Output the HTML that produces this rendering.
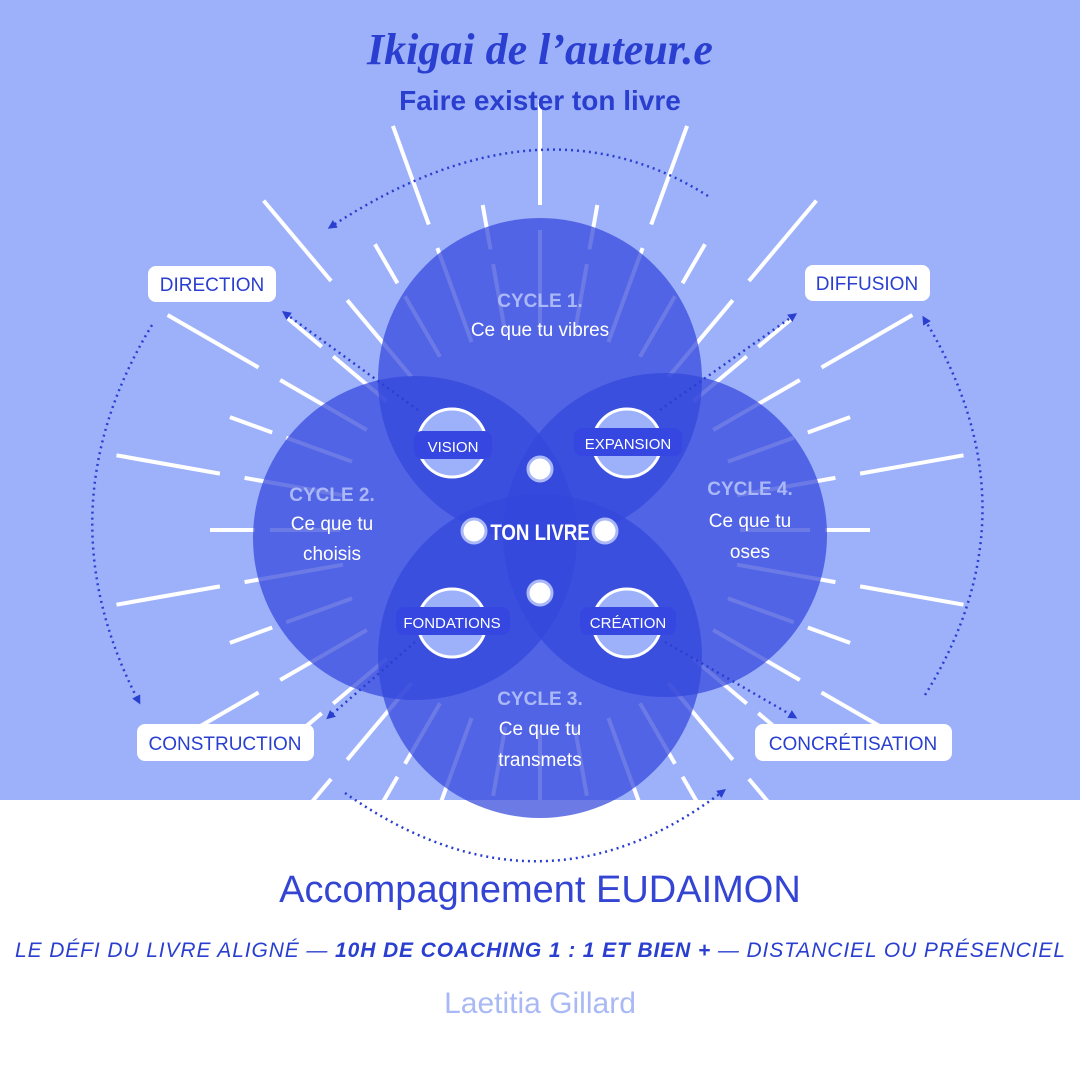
<!DOCTYPE html>
<html><head><meta charset="utf-8"><style>
body{margin:0;width:1080px;height:1080px;overflow:hidden;background:#fff;font-family:"Liberation Sans",sans-serif}
</style></head><body>
<svg width="1080" height="1080" viewBox="0 0 1080 1080" xmlns="http://www.w3.org/2000/svg">
<defs>
<marker id="ah" markerWidth="9" markerHeight="9" refX="4" refY="4.5" orient="auto" markerUnits="userSpaceOnUse"><path d="M0,0 L9,4.5 L0,9 Z" fill="#2a3fd0"/></marker>
</defs>
<rect width="1080" height="800" fill="#9db1fa"/>
<g id="rays" stroke="#fff" stroke-width="4"></g>
<rect y="800" width="1080" height="280" fill="#fff"/>
<g fill="#3347dc" fill-opacity="0.72">
<circle cx="540" cy="380" r="162"/>
<circle cx="415" cy="538" r="162"/>
<circle cx="665" cy="535" r="162"/>
<circle cx="540" cy="656" r="162"/>
</g>
<g fill="none" stroke="#2a3fd0" stroke-width="2.5" stroke-dasharray="2 4">
<path d="M708,196 Q540,90 332,226" marker-end="url(#ah)"/>
<path d="M152,325 Q40,510 138,700" marker-end="url(#ah)"/>
<path d="M925,695 Q1040,510 925,320" marker-end="url(#ah)"/>
<path d="M345,793 Q540,930 722,792" marker-end="url(#ah)"/>
<path d="M418,410 L286,314" marker-end="url(#ah)"/>
<path d="M660,410 L793,316" marker-end="url(#ah)"/>
<path d="M415,642 L330,716" marker-end="url(#ah)"/>
<path d="M665,642 L793,716" marker-end="url(#ah)"/>
</g>
<g fill="#9db1fa" stroke="#fff" stroke-width="3">
<circle cx="452" cy="443" r="34"/><circle cx="627" cy="443" r="34"/>
<circle cx="452" cy="623" r="34"/><circle cx="627" cy="623" r="34"/>
</g>
<g fill="#3547e0">
<rect x="414" y="431" width="78" height="28" rx="8"/>
<rect x="574" y="428" width="108" height="28" rx="8"/>
<rect x="396" y="607" width="114" height="28" rx="8"/>
<rect x="580" y="607" width="96" height="28" rx="8"/>
</g>
<g fill="#fff" font-size="15" text-anchor="middle" font-family="Liberation Sans">
<text x="453" y="452">VISION</text>
<text x="628" y="449">EXPANSION</text>
<text x="452" y="628">FONDATIONS</text>
<text x="628" y="628">CRÉATION</text>
</g>
<g fill="#fff" stroke="#aab8f8" stroke-width="3">
<circle cx="540" cy="469" r="12"/><circle cx="540" cy="593" r="12"/>
<circle cx="474" cy="531" r="12"/><circle cx="605" cy="531" r="12"/>
</g>
<text x="540" y="540" fill="#fff" font-size="22" font-weight="bold" text-anchor="middle" font-family="Liberation Sans Narrow,Liberation Sans" transform="translate(540 0) scale(0.85 1) translate(-540 0)">TON LIVRE</text>
<g text-anchor="middle" font-size="19">
<text x="540" y="307" fill="#aab8f8" font-weight="bold">CYCLE 1.</text>
<text x="540" y="336" fill="#fff">Ce que tu vibres</text>
<text x="332" y="501" fill="#aab8f8" font-weight="bold">CYCLE 2.</text>
<text x="332" y="530" fill="#fff">Ce que tu</text>
<text x="332" y="560" fill="#fff">choisis</text>
<text x="750" y="495" fill="#aab8f8" font-weight="bold">CYCLE 4.</text>
<text x="750" y="527" fill="#fff">Ce que tu</text>
<text x="750" y="558" fill="#fff">oses</text>
<text x="540" y="705" fill="#aab8f8" font-weight="bold">CYCLE 3.</text>
<text x="540" y="735" fill="#fff">Ce que tu</text>
<text x="540" y="766" fill="#fff">transmets</text>
</g>
<g fill="#fff">
<rect x="148" y="266" width="128" height="36" rx="8"/>
<rect x="805" y="265" width="125" height="36" rx="8"/>
<rect x="137" y="724" width="177" height="37" rx="8"/>
<rect x="755" y="724" width="197" height="37" rx="8"/>
</g>
<g fill="#2a3fd0" font-size="19" text-anchor="middle">
<text x="212" y="291">DIRECTION</text>
<text x="867" y="290">DIFFUSION</text>
<text x="225" y="750">CONSTRUCTION</text>
<text x="853" y="750">CONCRÉTISATION</text>
</g>
<text x="540" y="64" fill="#2a3fd0" font-size="44" font-style="italic" font-weight="bold" text-anchor="middle" font-family="Liberation Serif">Ikigai de l’auteur.e</text>
<text x="540" y="110" fill="#2a3fd0" font-size="28" font-weight="bold" text-anchor="middle">Faire exister ton livre</text>
<text x="540" y="902" fill="#3445d4" font-size="38" text-anchor="middle">Accompagnement EUDAIMON</text>
<text x="540" y="957" fill="#2a3fd0" font-size="21" font-style="italic" text-anchor="middle" textLength="1050">LE DÉFI DU LIVRE ALIGNÉ — <tspan font-weight="bold">10H DE COACHING 1 : 1 ET BIEN +</tspan> — DISTANCIEL OU PRÉSENCIEL</text>
<text x="540" y="1013" fill="#a9b9f5" font-size="30" text-anchor="middle">Laetitia Gillard</text>
</svg>
<script>
var g=document.getElementById('rays'),cx=540,cy=530,s='';
function seg(a,r1,r2){s+='<line x1="'+(cx+r1*Math.sin(a)).toFixed(1)+'" y1="'+(cy-r1*Math.cos(a)).toFixed(1)+'" x2="'+(cx+r2*Math.sin(a)).toFixed(1)+'" y2="'+(cy-r2*Math.cos(a)).toFixed(1)+'"/>';}
for(var i=0;i<36;i++){var a=i*10*Math.PI/180;
if(i%2==0){seg(a,200,300);seg(a,325,430);}else{seg(a,200,270);seg(a,285,330);}}
g.innerHTML=s;
</script>
</body></html>
